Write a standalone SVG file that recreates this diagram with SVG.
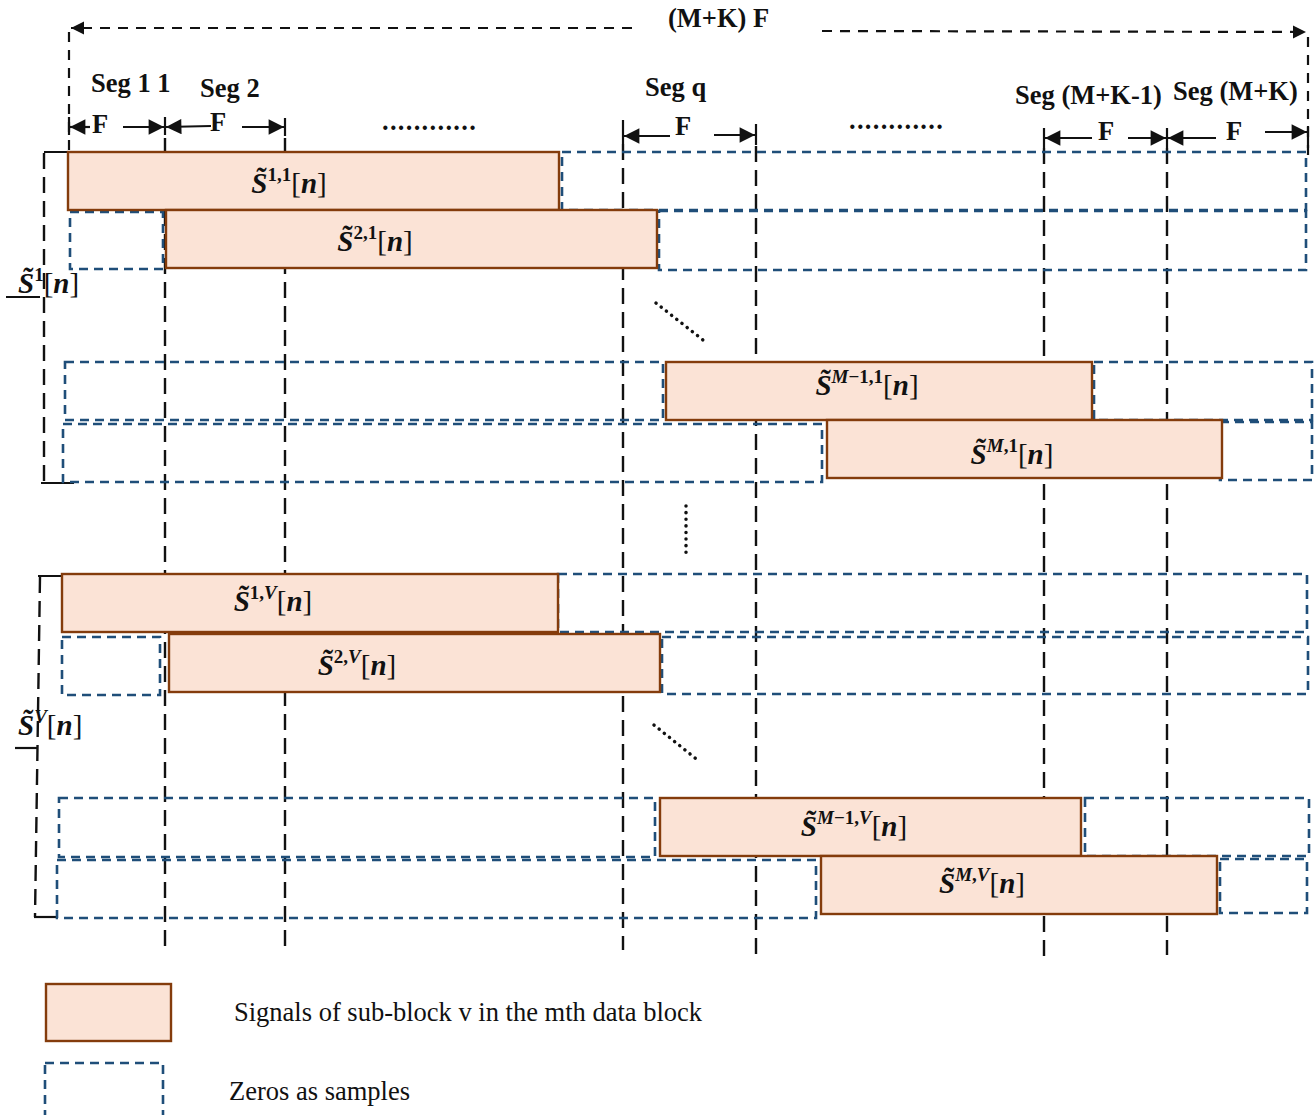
<svg xmlns="http://www.w3.org/2000/svg" width="1314" height="1115" viewBox="0 0 1314 1115">
<style>
.bg{fill:#ffffff}
.vl{stroke:#111;stroke-width:2.4;fill:none;stroke-dasharray:16 8}
.td{stroke:#111;stroke-width:2.2;fill:none;stroke-dasharray:10 8}
.sol{stroke:#111;stroke-width:2.2;fill:none}
.sig{fill:#FBE3D6;stroke:#843C0C;stroke-width:2.4}
.zero{fill:none;stroke:#1F4E79;stroke-width:2.6;stroke-dasharray:9 6}
.lbl{font-family:"Liberation Serif",serif;font-weight:bold;font-size:26.5px;fill:#111}
.leg{font-family:"Liberation Serif",serif;font-size:26.5px;fill:#111}
.math{font-family:"Liberation Serif","DejaVu Serif",serif;font-size:29px;fill:#111}
.mi{font-weight:bold;font-style:italic}
.sup{font-weight:bold;font-size:19px}
.dots{stroke:#111;stroke-width:3.5;stroke-dasharray:0.1 6.5;stroke-linecap:round;fill:none}
</style>
<defs>
<marker id="ah" viewBox="0 0 10 10" refX="10" refY="5" markerWidth="7.5" markerHeight="7" orient="auto-start-reverse" markerUnits="strokeWidth">
<path d="M0,0 L10,5 L0,10 z" fill="#111"/>
</marker>
<marker id="ahs" viewBox="0 0 10 10" refX="10" refY="5" markerWidth="6" markerHeight="6" orient="auto-start-reverse" markerUnits="strokeWidth">
<path d="M0,0 L10,5 L0,10 z" fill="#111"/>
</marker>
</defs>
<rect class="bg" x="0" y="0" width="1314" height="1115"/>

<g id="connectors">
<line class="td" x1="69" y1="150" x2="69" y2="30"/>
<line class="td" x1="1308" y1="155" x2="1308" y2="34"/>
<line class="td" x1="632" y1="28" x2="71" y2="28" marker-end="url(#ahs)"/>
<line class="td" x1="822" y1="31" x2="1306" y2="32" marker-end="url(#ahs)"/>
<line class="vl" x1="165" y1="138" x2="165" y2="950"/>
<line class="vl" x1="285" y1="138" x2="285" y2="950"/>
<line class="vl" x1="623" y1="144" x2="623" y2="950"/>
<line class="vl" x1="756" y1="146" x2="756" y2="955"/>
<line class="vl" x1="1044" y1="148" x2="1044" y2="958"/>
<line class="vl" x1="1167" y1="148" x2="1167" y2="955"/>
<line class="sol" x1="69" y1="117" x2="69" y2="135"/>
<line class="sol" x1="165" y1="117" x2="165" y2="135"/>
<line class="sol" x1="285" y1="118" x2="285" y2="136"/>
<line class="sol" x1="623" y1="120" x2="623" y2="144"/>
<line class="sol" x1="756" y1="124" x2="756" y2="145"/>
<line class="sol" x1="1044" y1="128" x2="1044" y2="148"/>
<line class="sol" x1="1167" y1="128" x2="1167" y2="148"/>
<line class="sol" x1="1308" y1="126" x2="1308" y2="148"/>
<line class="sol" x1="90" y1="127" x2="70" y2="127" marker-end="url(#ah)"/>
<line class="sol" x1="123" y1="127" x2="164" y2="127" marker-end="url(#ah)"/>
<line class="sol" x1="211" y1="126" x2="166" y2="127" marker-end="url(#ah)"/>
<line class="sol" x1="242" y1="127" x2="284" y2="127" marker-end="url(#ah)"/>
<line class="sol" x1="670" y1="136" x2="624" y2="136" marker-end="url(#ah)"/>
<line class="sol" x1="714" y1="135" x2="755" y2="135" marker-end="url(#ah)"/>
<line class="sol" x1="1092" y1="138" x2="1045" y2="138" marker-end="url(#ah)"/>
<line class="sol" x1="1128" y1="138" x2="1166" y2="138" marker-end="url(#ah)"/>
<line class="sol" x1="1216" y1="138" x2="1168" y2="138" marker-end="url(#ah)"/>
<line class="sol" x1="1265" y1="132" x2="1307" y2="132" marker-end="url(#ah)"/>
<line class="vl" x1="44" y1="153" x2="44" y2="483"/>
<polyline class="sol" points="79,152 44,152"/>
<polyline class="sol" points="41,483 74,483"/>
<line class="sol" x1="6" y1="297" x2="40" y2="297"/>
<line class="vl" x1="40" y1="577" x2="35" y2="917"/>
<polyline class="sol" points="38,576 72,576"/>
<polyline class="sol" points="34,917 58,917"/>
<line class="sol" x1="15" y1="748" x2="37" y2="748"/>
<line class="dots" x1="656" y1="303" x2="703" y2="340"/>
<line class="dots" x1="686" y1="506" x2="686" y2="556"/>
<line class="dots" x1="654" y1="725" x2="700" y2="762"/>
</g>

<g id="zeros">
<rect class="zero" x="562" y="152" width="744" height="58"/>
<rect class="zero" x="70" y="212" width="93" height="57"/>
<rect class="zero" x="659" y="211" width="647" height="59"/>
<rect class="zero" x="65" y="362" width="598" height="58"/>
<rect class="zero" x="1094" y="362" width="218" height="58"/>
<rect class="zero" x="63" y="424" width="759" height="58"/>
<rect class="zero" x="1220" y="422" width="92" height="58"/>
<rect class="zero" x="558" y="574" width="749" height="58"/>
<rect class="zero" x="62" y="637" width="98" height="58"/>
<rect class="zero" x="662" y="637" width="646" height="57"/>
<rect class="zero" x="59" y="798" width="596" height="59"/>
<rect class="zero" x="1085" y="798" width="224" height="58"/>
<rect class="zero" x="57" y="860" width="759" height="58"/>
<rect class="zero" x="1220" y="859" width="87" height="54"/>
</g>

<g id="s11"><rect class="sig" x="68" y="152" width="491" height="58"/>
<text class="math" x="289" y="193" text-anchor="middle"><tspan class="mi">S̃</tspan><tspan class="sup" dy="-12">1,1</tspan><tspan dy="12">[</tspan><tspan class="mi">n</tspan>]</text></g>
<g id="s21"><rect class="sig" x="166" y="210" width="491" height="58"/>
<text class="math" x="375" y="251" text-anchor="middle"><tspan class="mi">S̃</tspan><tspan class="sup" dy="-12">2,1</tspan><tspan dy="12">[</tspan><tspan class="mi">n</tspan>]</text></g>
<g id="sM11"><rect class="sig" x="666" y="362" width="426" height="58"/>
<text class="math" x="867" y="395" text-anchor="middle"><tspan class="mi">S̃</tspan><tspan class="sup" dy="-12"><tspan font-style="italic">M</tspan>−1,1</tspan><tspan dy="12">[</tspan><tspan class="mi">n</tspan>]</text></g>
<g id="sM1"><rect class="sig" x="827" y="420" width="395" height="58"/>
<text class="math" x="1012" y="464" text-anchor="middle"><tspan class="mi">S̃</tspan><tspan class="sup" dy="-12"><tspan font-style="italic">M</tspan>,1</tspan><tspan dy="12">[</tspan><tspan class="mi">n</tspan>]</text></g>
<g id="s1V"><rect class="sig" x="62" y="574" width="496" height="58"/>
<text class="math" x="273" y="611" text-anchor="middle"><tspan class="mi">S̃</tspan><tspan class="sup" dy="-12">1,<tspan font-style="italic">V</tspan></tspan><tspan dy="12">[</tspan><tspan class="mi">n</tspan>]</text></g>
<g id="s2V"><rect class="sig" x="169" y="634" width="491" height="58"/>
<text class="math" x="357" y="675" text-anchor="middle"><tspan class="mi">S̃</tspan><tspan class="sup" dy="-12">2,<tspan font-style="italic">V</tspan></tspan><tspan dy="12">[</tspan><tspan class="mi">n</tspan>]</text></g>
<g id="sM1V"><rect class="sig" x="660" y="798" width="421" height="58"/>
<text class="math" x="854" y="836" text-anchor="middle"><tspan class="mi">S̃</tspan><tspan class="sup" dy="-12"><tspan font-style="italic">M</tspan>−1,<tspan font-style="italic">V</tspan></tspan><tspan dy="12">[</tspan><tspan class="mi">n</tspan>]</text></g>
<g id="sMV"><rect class="sig" x="821" y="856" width="396" height="58"/>
<text class="math" x="982" y="893" text-anchor="middle"><tspan class="mi">S̃</tspan><tspan class="sup" dy="-12"><tspan font-style="italic">M</tspan>,<tspan font-style="italic">V</tspan></tspan><tspan dy="12">[</tspan><tspan class="mi">n</tspan>]</text></g>

<g id="group-labels">
<text class="math" x="18" y="293"><tspan class="mi">S̃</tspan><tspan class="sup" dy="-12">1</tspan><tspan dy="12">[</tspan><tspan class="mi">n</tspan>]</text>
<text class="math" x="18" y="735"><tspan class="mi">S̃</tspan><tspan class="sup" dy="-12" font-style="italic">V</tspan><tspan dy="12">[</tspan><tspan class="mi">n</tspan>]</text>
</g>

<g id="titles">
<text class="lbl" x="668" y="27">(M+K) F</text>
<text class="lbl" x="91" y="92">Seg 1 1</text>
<text class="lbl" x="200" y="97">Seg 2</text>
<text class="lbl" x="645" y="96">Seg q</text>
<text class="lbl" x="1015" y="104">Seg (M+K-1)</text>
<text class="lbl" x="1173" y="100">Seg (M+K)</text>
<text class="lbl" x="92" y="133">F</text>
<text class="lbl" x="210" y="131">F</text>
<text class="lbl" x="675" y="135">F</text>
<text class="lbl" x="1098" y="140">F</text>
<text class="lbl" x="1226" y="140">F</text>
<text class="lbl" x="382" y="130" letter-spacing="1.3">............</text>
<text class="lbl" x="849" y="129" letter-spacing="1.3">............</text>
</g>

<g id="legend">
<rect class="sig" x="46" y="984" width="125" height="57"/>
<text class="leg" x="234" y="1021">Signals of sub-block v in the mth data block</text>
<rect class="zero" x="45" y="1063" width="118" height="60"/>
<text class="leg" x="229" y="1100">Zeros as samples</text>
</g>
</svg>
